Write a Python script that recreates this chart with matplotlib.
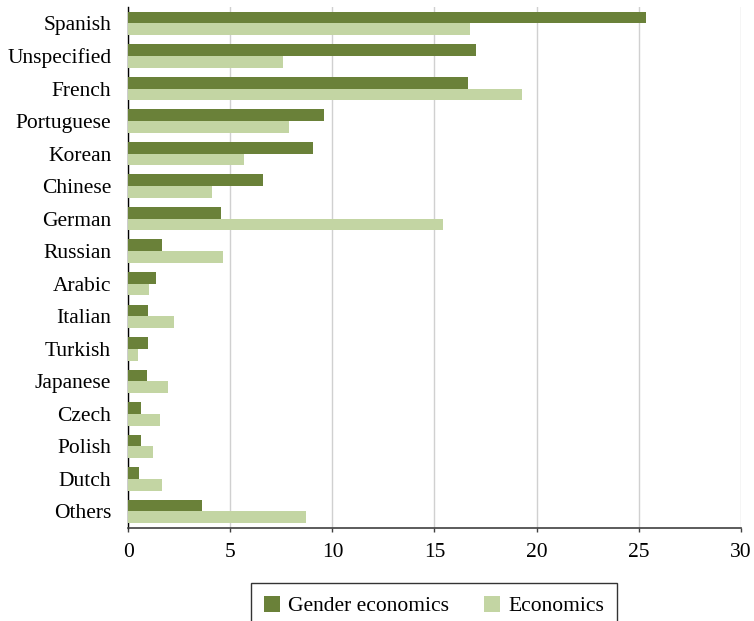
import matplotlib
matplotlib.use("Agg")
import matplotlib.pyplot as plt
import numpy as np

# share of publications by language (%)
languages = ["Spanish", "Unspecified", "French", "Portuguese", "Korean", "Chinese",
             "German", "Russian", "Arabic", "Italian", "Turkish", "Japanese",
             "Czech", "Polish", "Dutch", "Others"]
gender_econ = [25.36, 17.04, 16.62, 9.57, 9.03, 6.62, 4.55, 1.65, 1.34, 0.94,
               0.94, 0.90, 0.64, 0.64, 0.54, 3.63]
economics = [16.76, 7.59, 19.28, 7.85, 5.68, 4.10, 15.41, 4.64, 1.01, 2.26,
             0.49, 1.96, 1.56, 1.23, 1.67, 8.72]
x_ticks = [0, 5, 10, 15, 20, 25, 30]

DARK = "#6a8139"
LIGHT = "#c3d5a3"

plt.rcParams["font.family"] = ["Liberation Serif", "DejaVu Serif"]
plt.rcParams["font.size"] = 15.5


def main():
    fig = plt.figure(figsize=(7.54, 6.21), dpi=100)
    ax = fig.add_axes([0.1702, 0.1502, 0.9823 - 0.1702, 0.9884 - 0.1502])

    y = np.arange(len(languages))
    h = 0.36
    ax.barh(y - h / 2, gender_econ, height=h, color=DARK, label="Gender economics", zorder=3)
    ax.barh(y + h / 2, economics, height=h, color=LIGHT, label="Economics", zorder=3)

    ax.set_ylim(15.5, -0.5)
    ax.set_xlim(0, 30)
    ax.set_xticks(x_ticks)
    ax.set_yticks(y)
    ax.set_yticklabels(languages)

    ax.grid(axis="x", color="#d0d0d0", linewidth=1.0, zorder=0)
    for side in ["top", "right"]:
        ax.spines[side].set_visible(False)
    ax.spines["left"].set_color("black")
    ax.spines["left"].set_linewidth(1.0)
    ax.spines["bottom"].set_color("#404040")
    ax.spines["bottom"].set_linewidth(1.2)

    ax.tick_params(axis="y", length=0, pad=12.3)
    ax.tick_params(axis="x", length=3, width=1, color="#404040", pad=8)

    leg = fig.legend(loc="upper center", bbox_to_anchor=(0.5756, 0.061), ncol=2,
                     frameon=True, fancybox=False, edgecolor="black",
                     handlelength=0.75, handleheight=0.75, columnspacing=1.6,
                     borderpad=0.6, handletextpad=0.4, borderaxespad=0)
    leg.get_frame().set_linewidth(1.0)

    fig.savefig("out.png", dpi=100)
    plt.close(fig)


if __name__ == "__main__":
    main()
